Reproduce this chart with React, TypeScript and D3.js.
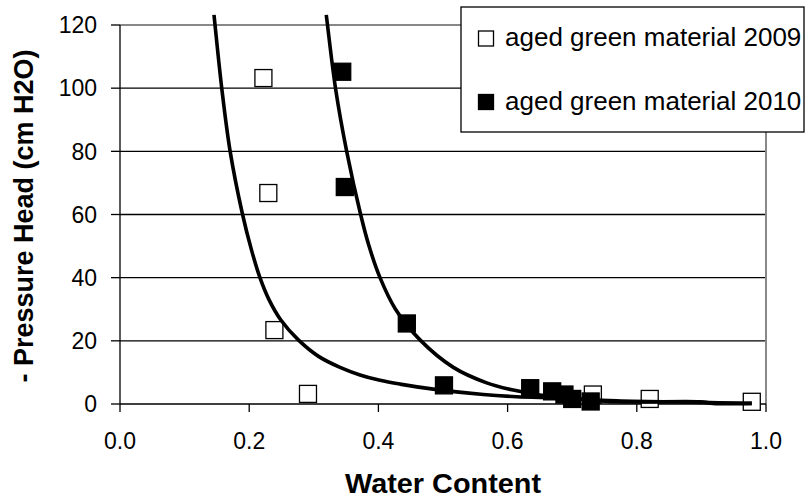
import React from "react";
import * as d3 from "d3";

// Measured retention points
const obs2009X = [0.222, 0.2296, 0.239, 0.291, 0.732, 0.82, 0.978];
const obs2009Y = [103.2, 66.8, 23.4, 3.2, 3.0, 1.6, 0.7];

const obs2010X = [0.344, 0.348, 0.444, 0.5015, 0.635, 0.669, 0.688, 0.7, 0.7286];
const obs2010Y = [105.2, 68.7, 25.5, 5.9, 5.0, 4.0, 3.0, 1.6, 0.8];

// Fitted retention curves (sampled)
const fit2009X = [0.1455, 0.1471, 0.1575, 0.1705, 0.1893, 0.2035, 0.2165, 0.231, 0.249, 0.276, 0.308, 0.3406, 0.3715, 0.4025, 0.4334, 0.485, 0.5624, 0.614, 0.6915, 0.769, 0.898, 0.918, 0.978];
const fit2009Y = [123.2, 120.0, 100.0, 80.0, 60.4, 48.8, 40.1, 32.9, 26.6, 20.3, 15.0, 11.6, 9.2, 7.5, 6.3, 4.7, 3.0, 2.3, 1.8, 0.7, 0.7, 0.2, 0.2];

const fit2010X = [0.3193, 0.3212, 0.3336, 0.3509, 0.3725, 0.3855, 0.4025, 0.4265, 0.4644, 0.516, 0.5676, 0.6088, 0.65, 0.6966, 0.769, 0.898, 0.978];
const fit2010Y = [123.2, 120.0, 100.0, 80.0, 60.0, 50.0, 40.0, 30.0, 20.3, 11.6, 6.7, 4.4, 2.85, 1.74, 1.0, 0.5, 0.2];

const xTicks = [0, 0.2, 0.4, 0.6, 0.8, 1.0];
const yTicks = [0, 20, 40, 60, 80, 100, 120];
const gridValues = [20, 40, 60, 80, 100];

const seriesNames = ["aged green material 2009", "aged green material 2010"];

const W = 805;
const H = 499;
const FONT = "'Liberation Sans', Arial, sans-serif";

export default function App() {
  const x = d3.scaleLinear().domain([0, 1]).range([120, 766]);
  const y = d3.scaleLinear().domain([0, 120]).range([404, 25]);

  const line = d3
    .line<[number, number]>()
    .x((d) => x(d[0]))
    .y((d) => y(d[1]))
    .curve(d3.curveCatmullRom.alpha(0.5));

  const pts = (xs: number[], ys: number[]) => xs.map((v, i) => [v, ys[i]] as [number, number]);

  const m = 17; // marker size

  return (
    <svg
      width={W}
      height={H}
      style={{ position: "absolute", left: 0, top: 0, background: "#fff" }}
      fontFamily={FONT}
    >
      <rect x={0} y={0} width={W} height={H} fill="#fff" />

      {/* grid */}
      {gridValues.map((v) => (
        <line key={v} x1={x(0)} x2={x(1)} y1={y(v)} y2={y(v)} stroke="#000" strokeWidth={1.3} />
      ))}
      {/* plot frame top/right */}
      <line x1={x(0)} x2={x(1)} y1={y(120)} y2={y(120)} stroke="#888" strokeWidth={2} />
      <line x1={x(1)} x2={x(1)} y1={y(120)} y2={y(0)} stroke="#888" strokeWidth={2} />

      {/* axes */}
      <line x1={x(0)} x2={x(0)} y1={y(120)} y2={y(0)} stroke="#000" strokeWidth={1.3} />
      <line x1={x(0)} x2={x(1)} y1={y(0)} y2={y(0)} stroke="#000" strokeWidth={1.3} />
      {yTicks.map((v) => (
        <g key={v}>
          <line x1={x(0) - 9} x2={x(0)} y1={y(v)} y2={y(v)} stroke="#000" strokeWidth={1.3} />
          <text x={97} y={y(v) + 8.3} fontSize={23} textAnchor="end" fill="#000">
            {v}
          </text>
        </g>
      ))}
      {xTicks.map((v) => (
        <g key={v}>
          <line x1={x(v)} x2={x(v)} y1={y(0)} y2={y(0) + 8} stroke="#000" strokeWidth={1.3} />
          <text x={x(v)} y={448.5} fontSize={23} textAnchor="middle" fill="#000">
            {v.toFixed(1)}
          </text>
        </g>
      ))}

      {/* axis titles */}
      <text
        x={443}
        y={492.5}
        fontSize={27}
        fontWeight="bold"
        textAnchor="middle"
        fill="#000"
        textLength={196}
        lengthAdjust="spacingAndGlyphs"
      >
        Water Content
      </text>
      <text
        transform="translate(33,216) rotate(-90)"
        fontSize={27}
        fontWeight="bold"
        textAnchor="middle"
        fill="#000"
      >
        - Pressure Head (cm H2O)
      </text>

      {/* markers */}
      {pts(obs2009X, obs2009Y).map((d, i) => (
        <rect
          key={"a" + i}
          x={x(d[0]) - m / 2}
          y={y(d[1]) - m / 2}
          width={m}
          height={m}
          fill="#fff"
          stroke="#000"
          strokeWidth={1.3}
        />
      ))}
      {pts(obs2010X, obs2010Y).map((d, i) => (
        <rect
          key={"b" + i}
          x={x(d[0]) - m / 2}
          y={y(d[1]) - m / 2}
          width={m}
          height={m}
          fill="#000"
          stroke="#000"
          strokeWidth={1.3}
        />
      ))}

      {/* fitted curves */}
      <path d={line(pts(fit2009X, fit2009Y)) || ""} fill="none" stroke="#000" strokeWidth={3.6} strokeLinejoin="round" />
      <path d={line(pts(fit2010X, fit2010Y)) || ""} fill="none" stroke="#000" strokeWidth={3.6} strokeLinejoin="round" />

      {/* legend */}
      <rect x={461} y={7} width={343} height={125} fill="#fff" stroke="#000" strokeWidth={1.3} />
      <rect x={478.5} y={31} width={15} height={15} fill="#fff" stroke="#000" strokeWidth={1.3} />
      <text x={505} y={46} fontSize={26} fill="#000">
        {seriesNames[0]}
      </text>
      <rect x={478.5} y={94.5} width={15} height={15} fill="#000" stroke="#000" strokeWidth={1.3} />
      <text x={505} y={110} fontSize={26} fill="#000">
        {seriesNames[1]}
      </text>
    </svg>
  );
}
